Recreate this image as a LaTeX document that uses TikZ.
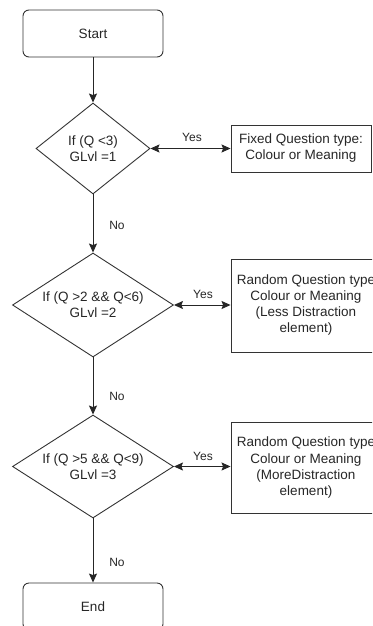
\documentclass[tikz,border=0pt]{standalone}
\usepackage{fontspec}
\setmainfont{Liberation Sans}
\usetikzlibrary{shapes.geometric,arrows.meta}
\begin{document}
\begin{tikzpicture}[x=1pt,y=-1pt,
  font=\fontsize{13.5pt}{16pt}\selectfont,
  every node/.style={text=black!85},
  terminal/.style={draw=black!80,line width=0.9pt,rounded corners=6pt,
    minimum width=140pt,minimum height=47pt,inner sep=0pt},
  decision/.style={draw=black!80,line width=0.9pt,diamond,
    inner sep=0pt,align=center},
  action/.style={draw=black!80,line width=0.9pt,inner sep=0pt,align=center},
  tip/.style={Stealth[length=9pt,width=8pt,inset=1.5pt]},
  flow/.style={draw=black!85,line width=1pt,-{Stealth[length=9pt,width=8pt,inset=1.5pt]}},
  both/.style={draw=black!85,line width=1pt,{Stealth[length=9pt,width=8pt,inset=1.5pt]}-{Stealth[length=9pt,width=8pt,inset=1.5pt]}},
  lbl/.style={inner sep=0pt,font=\fontsize{12pt}{14pt}\selectfont}]
\path[use as bounding box] (0,0) rectangle (372,626);
\clip (0,0) rectangle (372,626);

% terminals
\node[terminal] (start) at (93,33.5) {Start};
\node[terminal] (end) at (93,606.5) {End};

% decisions
\node[decision,shape aspect=1.25,minimum width=114pt,minimum height=91pt] (d1) at (93,148.5)
  {If (Q <3)\\GLvl =1};
\node[decision,shape aspect=1.55,minimum width=161pt,minimum height=104pt] (d2) at (93,305)
  {If (Q >2 \&\& Q<6)\\GLvl =2};
\node[decision,shape aspect=1.55,minimum width=161pt,minimum height=103pt] (d3) at (93,466.5)
  {If (Q >5 \&\& Q<9)\\GLvl =3};

% question types
\node[action,minimum width=140pt,minimum height=47pt] (q1) at (301,148.5)
  {Fixed Question type:\\Colour or Meaning};
\node[action,minimum width=150pt,minimum height=93pt] (q2) at (306,305.5)
  {Random Question type\\Colour or Meaning\\(Less Distraction\\element)};
\node[action,minimum width=150pt,minimum height=91pt] (q3) at (306,467.5)
  {Random Question type\\Colour or Meaning\\(MoreDistraction\\element)};

% main flow
\draw[flow] (start) -- (d1);
\draw[flow] (d1) -- (d2);
\draw[flow] (d2) -- (d3);
\draw[flow] (d3) -- (end);
\node[lbl] (no1) at (117,225) {No};
\node[lbl] (no2) at (117,396) {No};
\node[lbl] (no3) at (117,562) {No};

% yes branches
\draw[both] (d1.east) -- (d1.east -| q1.west);
\draw[both] (d2.east) -- (d2.east -| q2.west);
\draw[both] (d3.east) -- (d3.east -| q3.west);
\node[lbl] (y1) at (192,137) {Yes};
\node[lbl] (y2) at (203,294) {Yes};
\node[lbl] (y3) at (203,456) {Yes};
\end{tikzpicture}
\end{document}
